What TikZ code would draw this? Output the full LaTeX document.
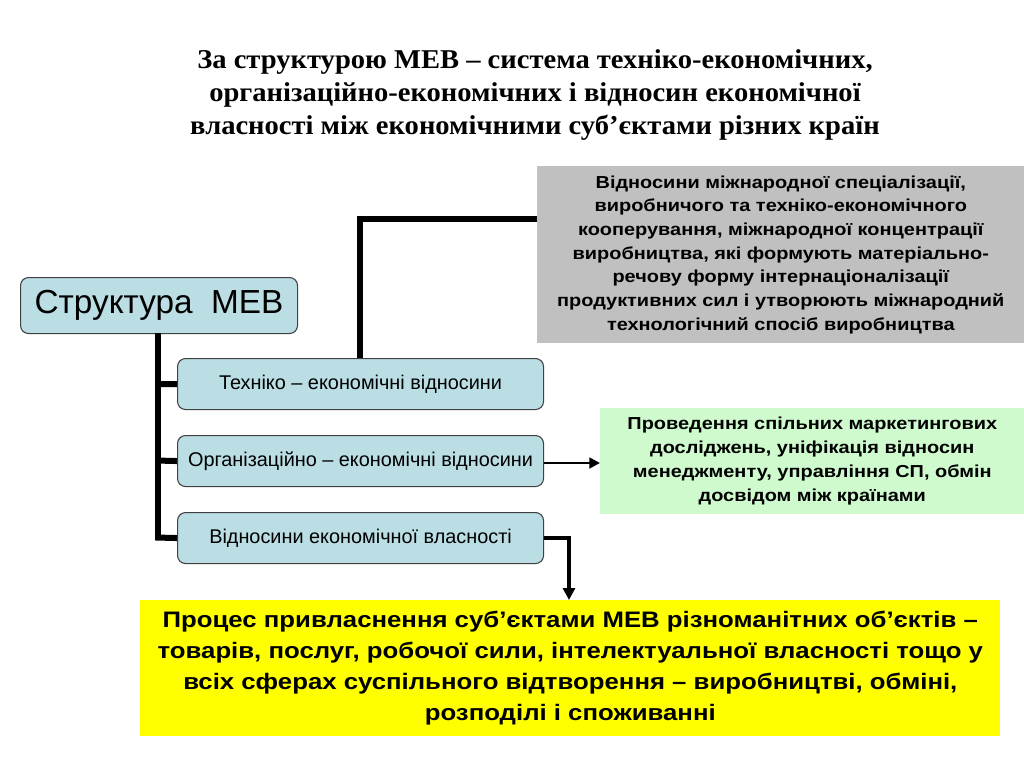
\documentclass[tikz,border=0pt]{standalone}
\usepackage{fontspec}
\setmainfont{Liberation Sans}
\newfontfamily\titlefont[FakeStretch=1.05]{Liberation Serif}
\newfontfamily\widefont[FakeStretch=1.15]{Liberation Sans}
\usetikzlibrary{arrows.meta}
\definecolor{boxblue}{RGB}{186,222,228}
\definecolor{boxgreen}{RGB}{206,250,206}
\definecolor{boxgrey}{RGB}{192,192,192}
\definecolor{boxyellow}{RGB}{255,255,0}
\tikzset{
  rbox/.style={draw=black!75, line width=0.8pt, fill=boxblue, rounded corners=6pt, inner sep=0pt, anchor=north west},
  flatbox/.style={inner sep=0pt, anchor=north west},
  thickline/.style={line width=4.5pt, line cap=butt},
  arr/.style={line width=2.2pt, -{Triangle[length=8pt,width=8pt]}},
}
\begin{document}
\begin{tikzpicture}[x=0.75pt,y=-0.75pt]
\useasboundingbox (0,0) rectangle (1024,768);
% title
\node[font=\titlefont\bfseries\fontsize{20.4}{25}\selectfont, align=center] (title) at (535,95)
  {За структурою МЕВ – система техніко-економічних,\\організаційно-економічних і відносин економічної\\власності між економічними суб’єктами різних країн};
% root
\node[rbox, minimum width=277*0.75pt, minimum height=56*0.75pt, font=\fontsize{25}{28}\selectfont] (root) at (20,277) {Структура\ \ МЕВ};
% children
\node[rbox, minimum width=366*0.75pt, minimum height=51*0.75pt, font=\fontsize{14.9}{17}\selectfont] (c1) at (177,358) {Техніко – економічні відносини};
\node[rbox, minimum width=366*0.75pt, minimum height=51*0.75pt, font=\fontsize{14.9}{17}\selectfont] (c2) at (177,435) {Організаційно – економічні відносини};
\node[rbox, minimum width=366*0.75pt, minimum height=51*0.75pt, font=\fontsize{14.9}{17}\selectfont] (c3) at (177,512) {Відносини економічної власності};
% grey box
\node[flatbox, fill=boxgrey, minimum width=487*0.75pt, minimum height=177*0.75pt] (grey) at (537,166) {};
\node[font=\widefont\bfseries\fontsize{13}{17.8}\selectfont, align=center] (greyt) at (grey.center)
  {Відносини міжнародної спеціалізації,\\виробничого та техніко-економічного\\кооперування, міжнародної концентрації\\виробництва, які формують матеріально-\\речову форму інтернаціоналізації\\продуктивних сил і утворюють міжнародний\\технологічний спосіб виробництва};
% green box
\node[flatbox, fill=boxgreen, minimum width=424*0.75pt, minimum height=106*0.75pt] (green) at (600,408) {};
\node[font=\widefont\bfseries\fontsize{13}{18}\selectfont, align=center] (greent) at (green.center)
  {Проведення спільних маркетингових\\досліджень, уніфікація відносин\\менеджменту, управління СП, обмін\\досвідом між країнами};
% yellow box
\node[flatbox, fill=boxyellow, minimum width=860*0.75pt, minimum height=136*0.75pt] (yellow) at (140,600) {};
\node[font=\widefont\bfseries\fontsize{16.8}{23.25}\selectfont, align=center] (yellowt) at (yellow.center)
  {Процес привласнення суб’єктами МЕВ різноманітних об’єктів –\\товарів, послуг, робочої сили, інтелектуальної власності тощо у\\всіх сферах суспільного відтворення – виробництві, обміні,\\розподілі і споживанні};
% connectors
\coordinate (trunk) at (158,333);
\draw[thickline] (trunk) -- (158,540);
\draw[thickline] (155.5,384) -- (c1.west);
\draw[thickline] (155.5,460.5) -- (c2.west);
\draw[thickline] (155.5,537.5) -- (c3.west);
\draw[thickline] (360,358) -- (360,219) -- (grey.west |- 0,219);
\draw[arr] (c2.east |- 0,463) -- (green.west |- 0,463);
\draw[line width=2.5pt, -{Triangle[length=9pt,width=9pt]}] (c3.east |- 0,538) -- (569,538) -- (yellow.north -| 569,0);
\end{tikzpicture}
\end{document}
